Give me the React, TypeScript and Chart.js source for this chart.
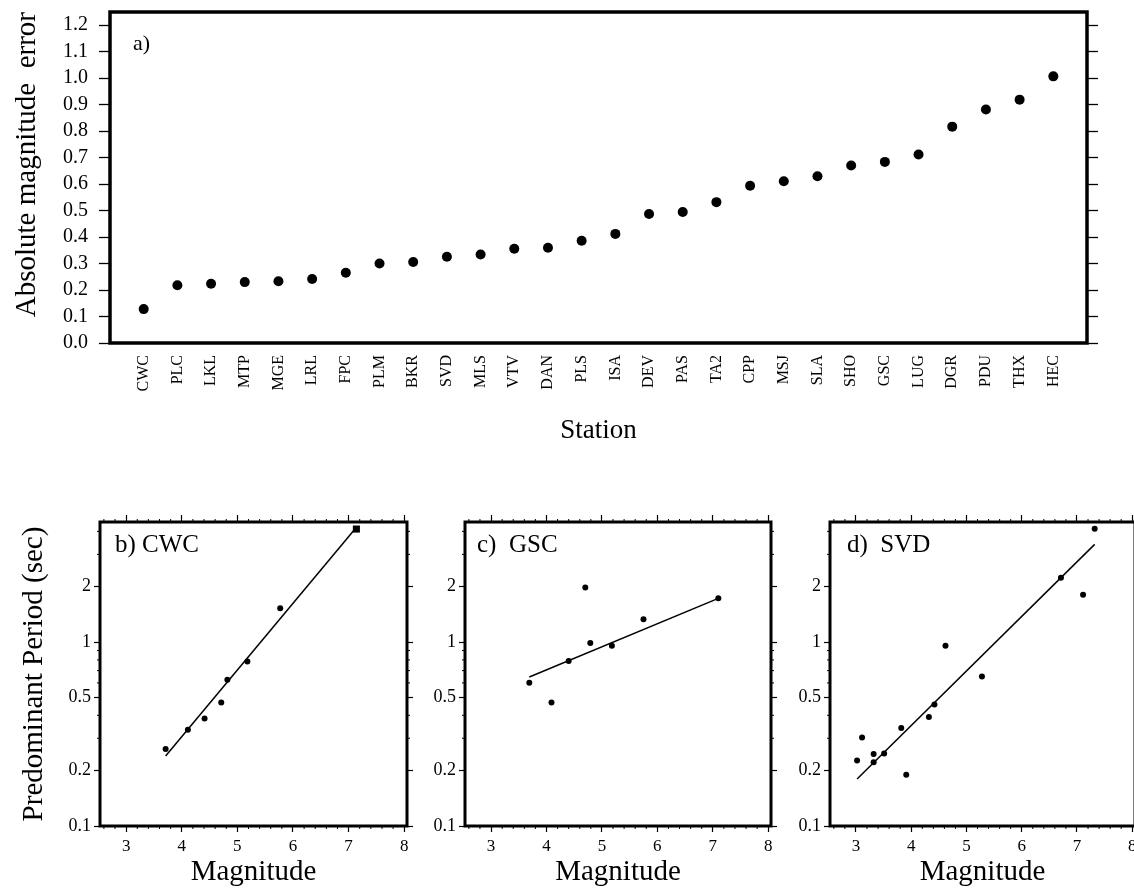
import React, { useEffect, useRef } from "react";
import { Chart, registerables } from "chart.js";
Chart.register(...registerables);

const FAMILY = '"Liberation Serif", "Times New Roman", serif';

// ---- Panel a) data ----
const STATIONS = ["CWC", "PLC", "LKL", "MTP", "MGE", "LRL", "FPC", "PLM", "BKR", "SVD", "MLS", "VTV", "DAN", "PLS", "ISA", "DEV", "PAS", "TA2", "CPP", "MSJ", "SLA", "SHO", "GSC", "LUG", "DGR", "PDU", "THX", "HEC"];
const ABS_ERROR = [0.128, 0.218, 0.224, 0.23, 0.233, 0.242, 0.265, 0.3, 0.306, 0.326, 0.334, 0.356, 0.36, 0.386, 0.412, 0.487, 0.495, 0.532, 0.594, 0.611, 0.63, 0.67, 0.684, 0.712, 0.817, 0.882, 0.919, 1.007];
const ERROR_TICKS = [0, 0.1, 0.2, 0.3, 0.4, 0.5, 0.6, 0.7, 0.8, 0.9, 1.0, 1.1, 1.2];

// ---- Panels b-d axes ----
const MAG_TICKS = [3, 4, 5, 6, 7, 8];
const MAG_MINOR = [2.6, 2.8, 3.2, 3.4, 3.6, 3.8, 4.2, 4.4, 4.6, 4.8, 5.2, 5.4, 5.6, 5.8, 6.2, 6.4, 6.6, 6.8, 7.2, 7.4, 7.6, 7.8];
const PERIOD_TICKS = [0.1, 0.2, 0.5, 1, 2];
const PERIOD_MINOR = [0.3, 0.4, 0.6, 0.7, 0.8, 0.9, 3, 4];

// ---- b) CWC ----
const CWC_MAG = [3.71, 4.11, 4.41, 4.71, 4.82, 5.18, 5.77];
const CWC_PERIOD = [0.262, 0.334, 0.384, 0.469, 0.625, 0.785, 1.53];
const CWC_BIG_MAG = [7.14];
const CWC_BIG_PERIOD = [4.12];
const CWC_FIT_MAG = [3.71, 7.1];
const CWC_FIT_PERIOD = [0.24, 4.07];

// ---- c) GSC ----
const GSC_MAG = [3.69, 4.09, 4.4, 4.7, 4.79, 5.18, 5.75, 7.1];
const GSC_PERIOD = [0.601, 0.47, 0.79, 1.98, 0.99, 0.955, 1.33, 1.73];
const GSC_FIT_MAG = [3.69, 7.1];
const GSC_FIT_PERIOD = [0.646, 1.73];

// ---- d) SVD ----
const SVD_MAG = [3.02, 3.11, 3.32, 3.32, 3.51, 3.82, 3.91, 4.32, 4.42, 4.62, 5.28, 6.71, 7.11, 7.32];
const SVD_PERIOD = [0.227, 0.303, 0.246, 0.222, 0.248, 0.341, 0.19, 0.392, 0.458, 0.955, 0.65, 2.24, 1.81, 4.13];
const SVD_FIT_MAG = [3.02, 7.32];
const SVD_FIT_PERIOD = [0.18, 3.4];

function framePlugin(width: number) {
  return {
    id: "frame",
    beforeDatasetsDraw(chart: any) {
      const { ctx, chartArea: a } = chart;
      ctx.save();
      ctx.lineWidth = width;
      ctx.strokeStyle = "#000";
      ctx.strokeRect(a.left, a.top, a.right - a.left, a.bottom - a.top);
      ctx.restore();
    },
  };
}

function minorTicksPlugin(items: { scale: string; edge: string; values: number[]; len: number }[]) {
  return {
    id: "minorTicks",
    afterDraw(chart: any) {
      const { ctx, chartArea: a } = chart;
      ctx.save();
      ctx.strokeStyle = "#000";
      ctx.lineWidth = 1;
      items.forEach((it) => {
        const sc = chart.scales[it.scale];
        it.values.forEach((v) => {
          const p = sc.getPixelForValue(v);
          ctx.beginPath();
          if (it.edge === "bottom") { ctx.moveTo(p, a.bottom); ctx.lineTo(p, a.bottom + it.len); }
          else if (it.edge === "top") { ctx.moveTo(p, a.top); ctx.lineTo(p, a.top - it.len); }
          else if (it.edge === "left") { ctx.moveTo(a.left, p); ctx.lineTo(a.left - it.len, p); }
          else { ctx.moveTo(a.right, p); ctx.lineTo(a.right + it.len, p); }
          ctx.stroke();
        });
      });
      ctx.restore();
    },
  };
}

function labelPlugin(text: string, dx: number, dy: number, size: number) {
  return {
    id: "panelLabel",
    afterDraw(chart: any) {
      const { ctx, chartArea: a } = chart;
      ctx.save();
      ctx.font = `${size}px ${FAMILY}`;
      ctx.fillStyle = "#000";
      ctx.textBaseline = "alphabetic";
      ctx.textAlign = "left";
      ctx.fillText(text, a.left + dx, a.top + dy);
      ctx.restore();
    },
  };
}

function topConfig(): any {
  return {
    type: "scatter",
    data: {
      datasets: [
        {
          data: ABS_ERROR.map((v, i) => ({ x: i, y: v })),
          pointRadius: 5,
          backgroundColor: "#000",
          borderWidth: 0,
          showLine: false,
        },
      ],
    },
    options: {
      responsive: false,
      animation: false,
      events: [],
      layout: { padding: 0 },
      plugins: { legend: { display: false }, tooltip: { enabled: false } },
      scales: {
        x: {
          type: "linear",
          min: -1,
          max: 28,
          afterBuildTicks: (s: any) => { s.ticks = STATIONS.map((_, i) => ({ value: i })); },
          afterFit: (s: any) => { s.height = 126; },
          ticks: {
            color: "#000",
            font: { family: FAMILY, size: 16 },
            padding: 12,
            autoSkip: false,
            minRotation: 90,
            maxRotation: 90,
            callback: (v: any) => STATIONS[v] ?? "",
          },
          grid: { drawOnChartArea: false, drawTicks: false },
          border: { display: false },
          title: { display: true, text: "Station", color: "#000", font: { family: FAMILY, size: 27 }, padding: { top: 0, bottom: 22 } },
        },
        y: {
          type: "linear",
          min: 0,
          max: 1.25,
          afterBuildTicks: (s: any) => { s.ticks = ERROR_TICKS.map((v) => ({ value: v })); },
          afterFit: (s: any) => { s.width = 110; },
          ticks: { color: "#000", font: { family: FAMILY, size: 20 }, padding: 11, autoSkip: false, callback: (v: any) => Number(v).toFixed(1) },
          grid: { drawOnChartArea: false, drawTicks: true, tickLength: 11, tickColor: "#000", tickWidth: 1.3 },
          border: { display: false },
          title: { display: true, text: "Absolute magnitude  error", align: "end", color: "#000", font: { family: FAMILY, size: 29 }, padding: { top: 10, bottom: 0 } },
        },
        y2: {
          type: "linear",
          position: "right",
          min: 0,
          max: 1.25,
          afterBuildTicks: (s: any) => { s.ticks = ERROR_TICKS.map((v) => ({ value: v })); },
          afterFit: (s: any) => { s.width = 47; },
          ticks: { autoSkip: false, callback: () => "" },
          grid: { drawOnChartArea: false, drawTicks: true, tickLength: 11, tickColor: "#000", tickWidth: 1.3 },
          border: { display: false },
        },
      },
    },
    plugins: [framePlugin(3.5), labelPlugin("a)", 23, 38, 22)],
  };
}

type Panel = {
  mag: number[];
  per: number[];
  bigMag?: number[];
  bigPer?: number[];
  fitMag: number[];
  fitPer: number[];
  label: string;
  dx: number;
  yWidth: number;
  rightWidth: number;
  yTitle?: string;
};

function panelConfig(p: Panel): any {
  const datasets: any[] = [
    {
      data: p.mag.map((m, i) => ({ x: m, y: p.per[i] })),
      pointRadius: 3,
      backgroundColor: "#000",
      borderWidth: 0,
      showLine: false,
    },
  ];
  if (p.bigMag && p.bigPer) {
    const bp = p.bigPer;
    datasets.push({
      data: p.bigMag.map((m, i) => ({ x: m, y: bp[i] })),
      pointStyle: "rect",
      pointRadius: 5,
      backgroundColor: "#000",
      borderWidth: 0,
      showLine: false,
    });
  }
  datasets.push({
    data: p.fitMag.map((m, i) => ({ x: m, y: p.fitPer[i] })),
    showLine: true,
    pointRadius: 0,
    borderColor: "#000",
    borderWidth: 1.5,
  });
  const xCommon = { type: "linear", min: 2.53, max: 8.05 };
  const yCommon = { type: "logarithmic", min: 0.1, max: 4.5 };
  return {
    type: "scatter",
    data: { datasets },
    options: {
      responsive: false,
      animation: false,
      events: [],
      layout: { padding: 0 },
      plugins: { legend: { display: false }, tooltip: { enabled: false } },
      scales: {
        x: {
          ...xCommon,
          afterBuildTicks: (s: any) => { s.ticks = MAG_TICKS.map((v) => ({ value: v })); },
          afterFit: (s: any) => { s.height = 64; },
          ticks: { color: "#000", font: { family: FAMILY, size: 17 }, padding: 4, maxRotation: 0, autoSkip: false, callback: (v: any) => String(v) },
          grid: { drawOnChartArea: false, drawTicks: true, tickLength: 6, tickColor: "#000", tickWidth: 1.2 },
          border: { display: false },
          title: { display: true, text: "Magnitude", color: "#000", font: { family: FAMILY, size: 29 }, padding: { top: 0, bottom: 0 } },
        },
        x2: {
          ...xCommon,
          position: "top",
          afterBuildTicks: (s: any) => { s.ticks = MAG_TICKS.map((v) => ({ value: v })); },
          afterFit: (s: any) => { s.height = 22; },
          ticks: { autoSkip: false, callback: () => "" },
          grid: { drawOnChartArea: false, drawTicks: true, tickLength: 7, tickColor: "#000", tickWidth: 1.2 },
          border: { display: false },
        },
        y: {
          ...yCommon,
          afterBuildTicks: (s: any) => { s.ticks = PERIOD_TICKS.map((v) => ({ value: v })); },
          afterFit: (s: any) => { s.width = p.yWidth; },
          ticks: { color: "#000", font: { family: FAMILY, size: 18 }, padding: 3, autoSkip: false, callback: (v: any) => String(v) },
          grid: { drawOnChartArea: false, drawTicks: true, tickLength: 6, tickColor: "#000", tickWidth: 1.2 },
          border: { display: false },
          title: p.yTitle
            ? { display: true, text: p.yTitle, color: "#000", font: { family: FAMILY, size: 29 }, padding: { top: 17, bottom: 0 } }
            : { display: false },
        },
        y2: {
          ...yCommon,
          position: "right",
          afterBuildTicks: (s: any) => { s.ticks = PERIOD_TICKS.map((v) => ({ value: v })); },
          afterFit: (s: any) => { s.width = p.rightWidth; },
          ticks: { autoSkip: false, callback: () => "" },
          grid: { drawOnChartArea: false, drawTicks: true, tickLength: 6, tickColor: "#000", tickWidth: 1.2 },
          border: { display: false },
        },
      },
    },
    plugins: [
      framePlugin(3),
      minorTicksPlugin([
        { scale: "x", edge: "bottom", values: MAG_MINOR, len: 3 },
        { scale: "x2", edge: "top", values: MAG_MINOR, len: 3 },
        { scale: "y", edge: "left", values: PERIOD_MINOR, len: 3 },
        { scale: "y2", edge: "right", values: PERIOD_MINOR, len: 3 },
      ]),
      labelPlugin(p.label, p.dx, 30, 25),
    ],
  };
}

export default function App() {
  const topRef = useRef<HTMLCanvasElement>(null);
  const bRef = useRef<HTMLCanvasElement>(null);
  const cRef = useRef<HTMLCanvasElement>(null);
  const dRef = useRef<HTMLCanvasElement>(null);

  useEffect(() => {
    const charts: Chart[] = [];
    if (topRef.current) charts.push(new Chart(topRef.current, topConfig()));
    if (bRef.current)
      charts.push(
        new Chart(
          bRef.current,
          panelConfig({
            mag: CWC_MAG, per: CWC_PERIOD, bigMag: CWC_BIG_MAG, bigPer: CWC_BIG_PERIOD,
            fitMag: CWC_FIT_MAG, fitPer: CWC_FIT_PERIOD, label: "b) CWC", dx: 15,
            yWidth: 100, rightWidth: 13, yTitle: "Predominant Period (sec)",
          })
        )
      );
    if (cRef.current)
      charts.push(
        new Chart(
          cRef.current,
          panelConfig({
            mag: GSC_MAG, per: GSC_PERIOD, fitMag: GSC_FIT_MAG, fitPer: GSC_FIT_PERIOD,
            label: "c)  GSC", dx: 12, yWidth: 45, rightWidth: 14,
          })
        )
      );
    if (dRef.current)
      charts.push(
        new Chart(
          dRef.current,
          panelConfig({
            mag: SVD_MAG, per: SVD_PERIOD, fitMag: SVD_FIT_MAG, fitPer: SVD_FIT_PERIOD,
            label: "d)  SVD", dx: 17, yWidth: 45, rightWidth: 15,
          })
        )
      );
    return () => charts.forEach((c) => c.destroy());
  }, []);

  const abs = (left: number, top: number): React.CSSProperties => ({ position: "absolute", left, top });

  return (
    <div style={{ position: "fixed", left: 0, top: 0, width: 1134, height: 890, overflow: "hidden", background: "#fff" }}>
      <canvas ref={topRef} width={1134} height={480} style={abs(0, -11)} />
      <canvas ref={bRef} width={420} height={390} style={abs(0, 500)} />
      <canvas ref={cRef} width={365} height={390} style={abs(420, 500)} />
      <canvas ref={dRef} width={365} height={390} style={abs(785, 500)} />
    </div>
  );
}
